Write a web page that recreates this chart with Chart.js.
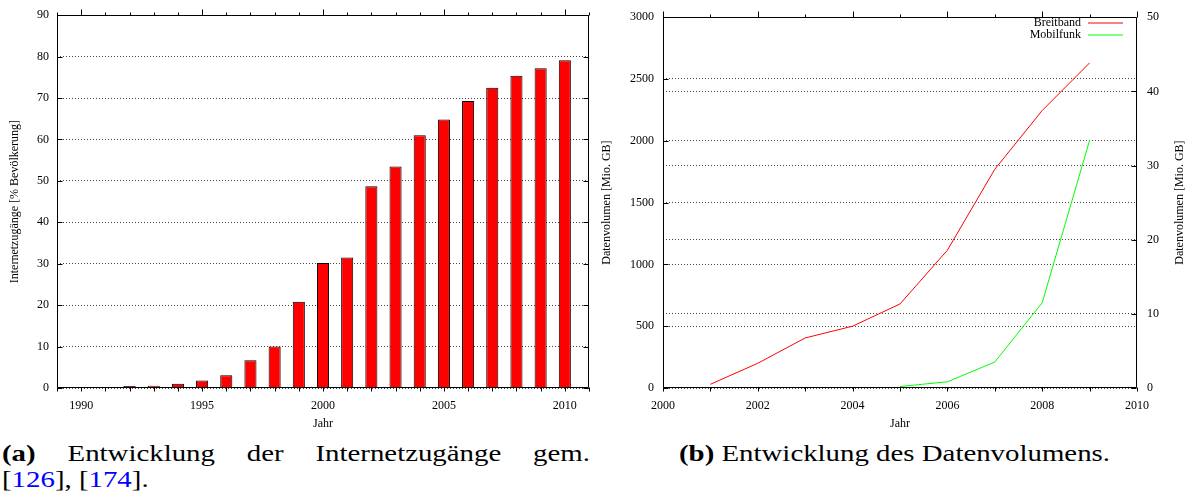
<!DOCTYPE html>
<html>
<head>
<meta charset="utf-8">
<script src="https://cdn.jsdelivr.net/npm/chart.js"></script>
<style>
  body { margin: 0; background: #fff; }
  #page { position: relative; width: 1192px; height: 501px; overflow: hidden; background: #fff; }
  .box { position: absolute; top: 0; height: 435px; }
  .cap { position: absolute; font-family: "Liberation Serif", serif; font-size: 23px; line-height: 26px; color: #000; transform-origin: 0 0; }
  .ref { color: #0000ff; }
</style>
</head>
<body>
<div id="page">
  <div class="box" style="left:0;width:600px"><canvas id="zugang"></canvas></div>
  <div class="box" style="left:600px;width:592px"><canvas id="volumen"></canvas></div>
  <div class="cap" id="capA" style="left:2px;top:441px">
    <div id="capA1" style="text-align:justify;text-align-last:justify"><b>(a)</b> Entwicklung der Internetzugänge gem.</div>
    <div>[<span class="ref">126</span>], [<span class="ref">174</span>].</div>
  </div>
  <div class="cap" id="capB" style="top:441px;white-space:nowrap"><span id="capB1"><b>(b)</b> Entwicklung des Datenvolumens.</span></div>
</div>
<script>
// (a) Internetzugaenge
const jahre = [1990, 1991, 1992, 1993, 1994, 1995, 1996, 1997, 1998, 1999, 2000,
               2001, 2002, 2003, 2004, 2005, 2006, 2007, 2008, 2009, 2010];
const zugaenge = [0.1, 0.25, 0.5, 0.55, 1.0, 1.8, 3.1, 6.7, 10.0, 20.8, 30.2,
                  31.5, 48.7, 53.5, 61.0, 64.8, 69.3, 72.5, 75.4, 77.2, 79.1];

// (b) Datenvolumen
const breitbandJahre = [2001, 2002, 2003, 2004, 2005, 2006, 2007, 2008, 2009];
const breitband = [30, 200, 405, 500, 680, 1115, 1770, 2245, 2630];
const mobilJahre = [2005, 2006, 2007, 2008, 2009];
const mobilfunk = [0.2, 0.84, 3.5, 11.5, 33.4];

const titelLinks = 'Internetzugänge [% Bevölkerung]';
const titelVolumen = 'Datenvolumen [Mio. GB]';
const farben = ['#ff0000', '#00ff00'];

Chart.defaults.font.family = '"Liberation Serif", serif';
Chart.defaults.font.size = 12;
Chart.defaults.color = '#000';

// frame + gnuplot style ticks
const rahmen = {
  id: 'rahmen',
  afterDraw(chart, args, opts) {
    const { ctx, chartArea: a, scales } = chart;
    const L = Math.round(a.left) + 0.5, R = Math.round(a.right) - 0.5;
    const T = Math.round(a.top) + 0.5, B = Math.round(a.bottom) - 0.5;
    ctx.save();
    ctx.strokeStyle = '#000';
    ctx.lineWidth = 1;
    ctx.beginPath();
    ctx.rect(L, T, R - L, B - T);
    scales.x.ticks.forEach(t => {
      const px = Math.round(scales.x.getPixelForValue(t.value)) + 0.5;
      const gross = t.label !== '';
      ctx.moveTo(px, T); ctx.lineTo(px, T - (gross ? 6 : 3));
      ctx.moveTo(px, B); ctx.lineTo(px, B + 4);
    });
    scales[opts.links].ticks.forEach(t => {
      const py = Math.round(scales[opts.links].getPixelForValue(t.value)) + 0.5;
      ctx.moveTo(L, py); ctx.lineTo(L + 5, py);
    });
    scales[opts.rechts].ticks.forEach(t => {
      const py = Math.round(scales[opts.rechts].getPixelForValue(t.value)) + 0.5;
      ctx.moveTo(R, py); ctx.lineTo(R - 5, py);
    });
    ctx.stroke();
    ctx.restore();
  }
};

const legende = {
  id: 'legende',
  afterDraw(chart) {
    const { ctx, chartArea: a } = chart;
    ctx.save();
    // samples straddle two pixel rows, like the antialiased original
    ctx.lineWidth = 1.2;
    chart.data.datasets.forEach((ds, i) => {
      const y = Math.round(23 + i * 11.5);
      ctx.strokeStyle = farben[i];
      ctx.beginPath();
      ctx.moveTo(488, y);
      ctx.lineTo(523, y);
      ctx.stroke();
    });
    ctx.font = '12px "Liberation Serif", serif';
    ctx.textBaseline = 'middle';
    ctx.textAlign = 'right';
    ctx.fillStyle = '#000';
    chart.data.datasets.forEach((ds, i) => {
      ctx.fillText(ds.label, 481, Math.round(23 + i * 11.5));
    });
    // title of right axis, reads bottom to top
    ctx.translate(580, (a.top + a.bottom) / 2);
    ctx.rotate(-Math.PI / 2);
    ctx.textAlign = 'center';
    ctx.fillText(titelVolumen, 0, 0);
    ctx.restore();
  }
};

const punktGitter = { color: '#444', drawTicks: false };
const punktRand = { display: false, dash: [1, 2] };

new Chart(document.getElementById('zugang'), {
  type: 'bar',
  data: {
    datasets: [{
      data: jahre.map((j, i) => ({ x: j, y: zugaenge[i] })),
      backgroundColor: farben[0],
      borderColor: '#000',
      borderWidth: 1,
      barPercentage: 0.5,
      categoryPercentage: 1
    }]
  },
  options: {
    responsive: true,
    maintainAspectRatio: false,
    animation: false,
    layout: { padding: { top: 12, right: 7, left: 0, bottom: 0 } },
    plugins: {
      legend: { display: false },
      tooltip: { enabled: false },
      rahmen: { links: 'y', rechts: 'y' }
    },
    scales: {
      x: {
        type: 'linear', min: 1989, max: 2011, offset: false,
        grid: { display: false, offset: false, drawTicks: false },
        border: { display: false },
        ticks: {
          stepSize: 1, autoSkip: false, maxRotation: 0, padding: 11,
          callback: v => (v % 5 === 0 ? String(v) : '')
        },
        title: { display: true, text: 'Jahr', padding: { top: 0, bottom: 4 } },
        afterFit: s => { s.height = 47; }
      },
      y: {
        min: 0, max: 90,
        grid: punktGitter,
        border: punktRand,
        ticks: { stepSize: 10, padding: 8, callback: v => String(v) },
        title: { display: true, text: titelLinks, padding: { top: 8, bottom: 0 } },
        afterFit: s => { s.width = 57; }
      }
    }
  },
  plugins: [rahmen]
});

new Chart(document.getElementById('volumen'), {
  type: 'line',
  data: {
    datasets: [{
      label: 'Breitband',
      data: breitbandJahre.map((j, i) => ({ x: j, y: breitband[i] })),
      borderColor: farben[0],
      borderWidth: 1,
      pointRadius: 0,
      tension: 0,
      yAxisID: 'y'
    }, {
      label: 'Mobilfunk',
      data: mobilJahre.map((j, i) => ({ x: j, y: mobilfunk[i] })),
      borderColor: farben[1],
      borderWidth: 1,
      pointRadius: 0,
      tension: 0,
      yAxisID: 'y1'
    }]
  },
  options: {
    responsive: true,
    maintainAspectRatio: false,
    animation: false,
    layout: { padding: { top: 12, right: 0, left: 0, bottom: 0 } },
    plugins: {
      legend: { display: false },
      tooltip: { enabled: false },
      rahmen: { links: 'y', rechts: 'y1' }
    },
    scales: {
      x: {
        type: 'linear', min: 2000, max: 2010,
        grid: { display: false, drawTicks: false },
        border: { display: false },
        ticks: {
          stepSize: 1, autoSkip: false, maxRotation: 0, padding: 11,
          callback: v => (v % 2 === 0 ? String(v) : '')
        },
        title: { display: true, text: 'Jahr', padding: { top: 0, bottom: 4 } },
        afterFit: s => { s.height = 47; }
      },
      y: {
        position: 'left', min: 0, max: 3000,
        grid: punktGitter,
        border: punktRand,
        ticks: { stepSize: 500, padding: 9, callback: v => String(v) },
        title: { display: true, text: titelVolumen, padding: { top: 0, bottom: 0 } },
        afterFit: s => { s.width = 63; }
      },
      y1: {
        position: 'right', min: 0, max: 50,
        grid: punktGitter,
        border: punktRand,
        ticks: { stepSize: 10, padding: 10, callback: v => String(v) },
        afterFit: s => { s.width = 55; }
      }
    }
  },
  plugins: [rahmen, legende]
});

// captions: stretch Liberation Serif to the wide LaTeX widths
const capB = document.getElementById('capB');
const breiteB = document.getElementById('capB1').getBoundingClientRect().width;
const k = 431 / breiteB;
capB.style.left = (894 - 431 / 2) + 'px';
capB.style.transform = 'scaleX(' + k + ')';
const capA = document.getElementById('capA');
capA.style.width = (588 / k) + 'px';
capA.style.transform = 'scaleX(' + k + ')';
</script>
</body>
</html>
